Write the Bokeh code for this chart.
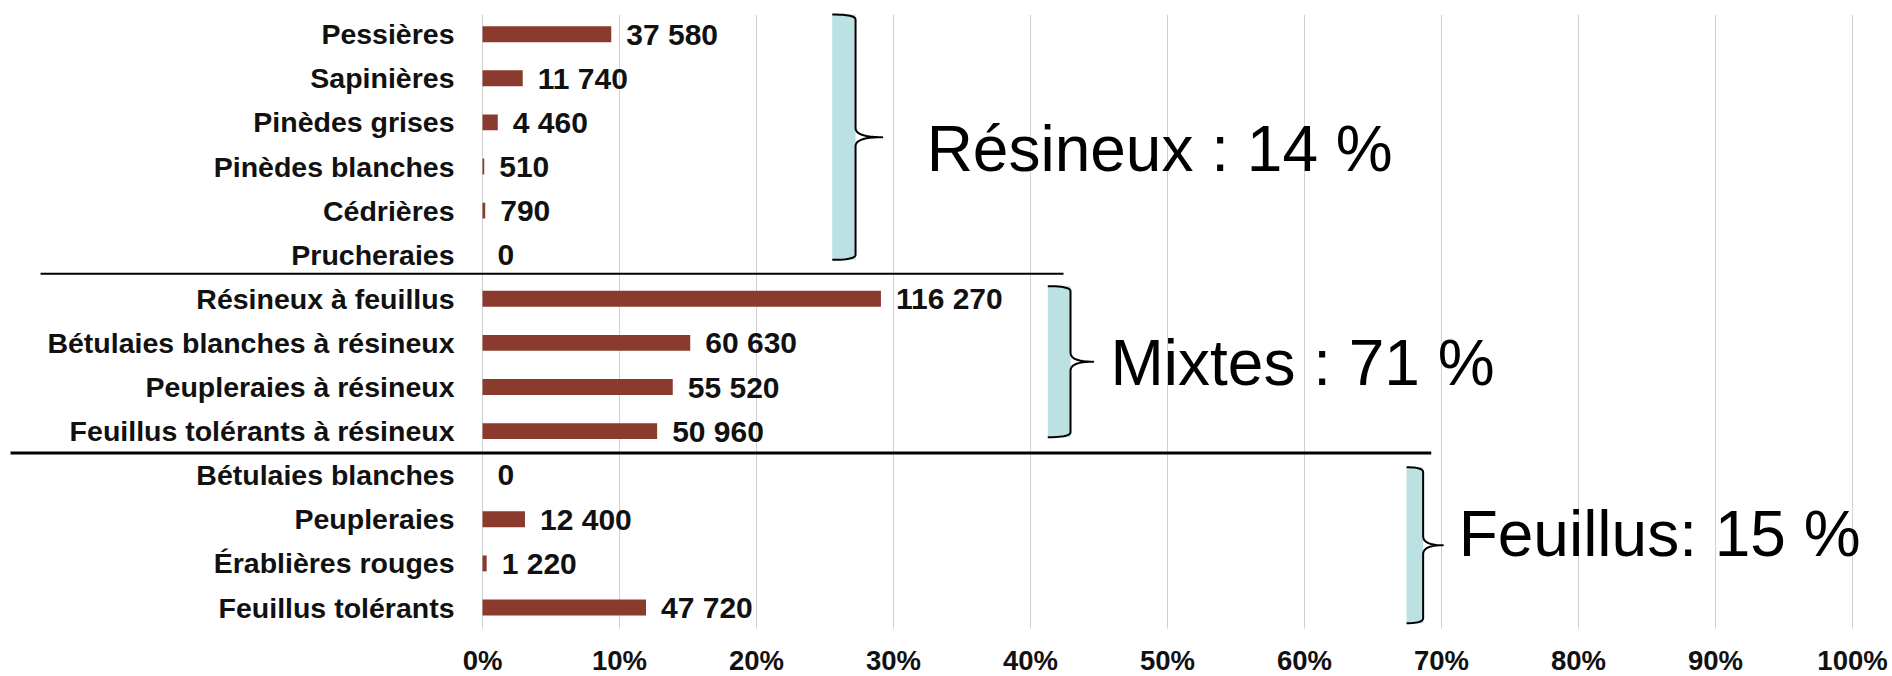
import numpy as np
from bokeh.plotting import figure
from bokeh.models import Range1d, ColumnDataSource
from bokeh.core.properties import value
from bokeh.embed import file_html
from bokeh.resources import INLINE

# ---------------- data ----------------
categories = [
    "Pessières", "Sapinières", "Pinèdes grises", "Pinèdes blanches",
    "Cédrières", "Prucheraies",
    "Résineux à feuillus", "Bétulaies blanches à résineux",
    "Peupleraies à résineux", "Feuillus tolérants à résineux",
    "Bétulaies blanches", "Peupleraies", "Érablières rouges", "Feuillus tolérants",
]
superficies = [37580, 11740, 4460, 510, 790, 0,
               116270, 60630, 55520, 50960,
               0, 12400, 1220, 47720]
group_labels = ["Résineux : 14 %", "Mixtes : 71 %", "Feuillus: 15 %"]
tick_values = [0.0, 0.1, 0.2, 0.3, 0.4, 0.5, 0.6, 0.7, 0.8, 0.9, 1.0]
tick_labels = ["0%", "10%", "20%", "30%", "40%", "50%", "60%", "70%", "80%", "90%", "100%"]

total = sum(superficies)
shares = [v / total for v in superficies]
rows = list(range(len(categories)))
value_labels = [f"{v:,}".replace(",", "\u00a0") for v in superficies]

# ---------------- layout ----------------
W, H = 1892, 676
X0_PX = 482.0          # pixel position of 0 %
PX_PER_UNIT = 1370.0   # pixels for 100 %
ROW0_PX = 33.7         # pixel centre of first row
ROW_PX = 44.1          # pixels per row

x_range = Range1d(-X0_PX / PX_PER_UNIT, (W - X0_PX) / PX_PER_UNIT)
y_range = Range1d((H - ROW0_PX) / ROW_PX, -ROW0_PX / ROW_PX)

FONT = value("Liberation Sans")
BAR_COLOR = "#8B3A2E"
BRACE_FILL = "#BCE1E3"

p = figure(width=W, height=H, x_range=x_range, y_range=y_range,
           x_axis_location=None, y_axis_location=None,
           toolbar_location=None, output_backend="svg",
           min_border=0, outline_line_color=None)
p.grid.visible = False
p.background_fill_color = "white"
p.border_fill_color = "white"

# grid lines
GRID_TOP, GRID_BOTTOM = -0.44, 13.48
p.segment(x0=tick_values, y0=[GRID_TOP] * len(tick_values),
          x1=tick_values, y1=[GRID_BOTTOM] * len(tick_values),
          line_color="#D0D0D0", line_width=1)

# tick labels
TICK_LABEL_Y = 14.20
p.text(x=tick_values, y=[TICK_LABEL_Y] * len(tick_values), text=tick_labels,
       text_align="center", text_baseline="middle",
       text_font=FONT, text_font_style="bold", text_font_size="27.5px",
       text_color="#111111")

src = ColumnDataSource(dict(y=rows, share=shares, zero=[0.0] * len(rows),
                            cat=categories, lab=value_labels))

# bars
p.hbar(y="y", left="zero", right="share", height=0.36, source=src,
       fill_color=BAR_COLOR, line_color=None)

# value labels
p.text(x="share", y="y", text="lab", source=src, x_offset=15,
       text_align="left", text_baseline="middle",
       text_font=FONT, text_font_style="bold", text_font_size="30px",
       text_color="#111111")

# category labels
p.text(x="zero", y="y", text="cat", source=src, x_offset=-28,
       text_align="right", text_baseline="middle",
       text_font=FONT, text_font_style="bold", text_font_size="28.5px",
       text_color="#111111")

# separators between groups
sep_x0 = [-0.3226, -0.3445]
sep_x1 = [0.4241, 0.6925]
sep_y = [5.433, 9.497]
sep_w = [2, 3]
for a, b, yy, lw in zip(sep_x0, sep_x1, sep_y, sep_w):
    p.segment(x0=[a], y0=[yy], x1=[b], y1=[yy], line_color="black", line_width=lw)

# braces: (left, right, tip) in share units, (top, bottom) in rows
braces = [
    (0.2553, 0.2723, 0.2918, -0.447, 5.116),
    (0.4126, 0.4292, 0.4458, 5.714, 9.138),
    (0.6745, 0.6866, 0.7010, 9.819, 13.356),
]

def qbez(p0, c, p2, n=12):
    t = np.linspace(0, 1, n)
    xs = (1 - t) ** 2 * p0[0] + 2 * (1 - t) * t * c[0] + t ** 2 * p2[0]
    ys = (1 - t) ** 2 * p0[1] + 2 * (1 - t) * t * c[1] + t ** 2 * p2[1]
    return list(xs), list(ys)

hook = 5.0 / ROW_PX
bend = 9.0 / ROW_PX
for (xl, xr, xt, yt, yb) in braces:
    p.quad(left=[xl], right=[xr], top=[yt], bottom=[yb],
           fill_color=BRACE_FILL, line_color=None)
    ym = (yt + yb) / 2
    xs, ys = [], []
    for seg in [
        qbez((xl, yt), (xr, yt), (xr, yt + hook)),
        ([xr, xr], [yt + hook, ym - bend]),
        qbez((xr, ym - bend), (xr, ym), (xt, ym)),
        qbez((xt, ym), (xr, ym), (xr, ym + bend)),
        ([xr, xr], [ym + bend, yb - hook]),
        qbez((xr, yb - hook), (xr, yb), (xl, yb)),
    ]:
        xs += list(seg[0])
        ys += list(seg[1])
    p.line(xs, ys, line_color="black", line_width=2, line_join="round")

# group labels
gl_x = [0.3242, 0.4584, 0.7125]
gl_y = [2.592, 7.456, 11.322]
p.text(x=gl_x, y=gl_y, text=group_labels, text_align="left",
       text_baseline="middle", text_font=FONT, text_font_size="64px",
       text_color="black")

open("out.html", "w").write(file_html(p, INLINE))
